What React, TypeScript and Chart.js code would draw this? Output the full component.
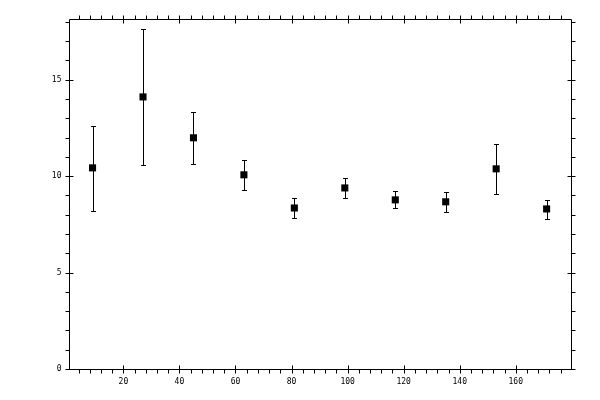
import { useEffect, useRef } from 'react';
import { Chart, registerables, Plugin } from 'chart.js';

Chart.register(...registerables);

const xValues = [9, 27, 45, 63, 81, 99, 117, 135, 153, 171];
const yValues = [10.43, 14.11, 11.99, 10.07, 8.35, 9.39, 8.77, 8.67, 10.38, 8.3];
const yUpper = [12.61, 17.64, 13.32, 10.85, 8.87, 9.91, 9.24, 9.18, 11.68, 8.77];
const yLower = [8.2, 10.6, 10.64, 9.29, 7.84, 8.87, 8.35, 8.15, 9.1, 7.78];

// axis ticks
const xMajorTicks = [20, 40, 60, 80, 100, 120, 140, 160];
const xTickLabels = ['20', '40', '60', '80', '100', '120', '140', '160'];
const xMinorTicks = [4, 8, 12, 16, 24, 28, 32, 36, 44, 48, 52, 56, 64, 68, 72, 76, 84, 88, 92, 96, 104, 108, 112, 116, 124, 128, 132, 136, 144, 148, 152, 156, 164, 168, 172, 176];
const yMajorTicks = [0, 5, 10, 15];
const yTickLabels = ['0', '5', '10', '15'];
const yMinorTicks = [1, 2, 3, 4, 6, 7, 8, 9, 11, 12, 13, 14, 16, 17, 18];

const crisp = (v: number) => Math.round(v) + 0.5;

const errorBars: Plugin<'scatter'> = {
  id: 'errorBars',
  beforeDatasetsDraw(chart) {
    const { ctx, scales } = chart;
    const xs = scales.x;
    const ys = scales.y;
    ctx.save();
    ctx.strokeStyle = '#000';
    ctx.lineWidth = 1;
    xValues.forEach((x, i) => {
      const px = crisp(xs.getPixelForValue(x));
      const top = Math.round(ys.getPixelForValue(yUpper[i])) + 0.5;
      const bot = Math.round(ys.getPixelForValue(yLower[i])) + 0.5;
      ctx.beginPath();
      ctx.moveTo(px, top);
      ctx.lineTo(px, bot);
      ctx.moveTo(px - 2.5, top);
      ctx.lineTo(px + 2.5, top);
      ctx.moveTo(px - 2.5, bot);
      ctx.lineTo(px + 2.5, bot);
      ctx.stroke();
    });
    ctx.restore();
  },
};

const frameAxes: Plugin<'scatter'> = {
  id: 'frameAxes',
  afterDraw(chart) {
    const { ctx, chartArea, scales } = chart;
    const xs = scales.x;
    const ys = scales.y;
    const l = crisp(chartArea.left);
    const r = crisp(chartArea.right);
    const t = crisp(chartArea.top);
    const b = crisp(chartArea.bottom);
    ctx.save();
    ctx.strokeStyle = '#000';
    ctx.lineWidth = 1;
    ctx.beginPath();
    ctx.rect(l, t, r - l, b - t);

    xMajorTicks.forEach((v) => {
      const p = crisp(xs.getPixelForValue(v));
      ctx.moveTo(p, b - 4);
      ctx.lineTo(p, b + 4);
      ctx.moveTo(p, t - 4);
      ctx.lineTo(p, t + 4);
    });
    xMinorTicks.forEach((v) => {
      const p = crisp(xs.getPixelForValue(v));
      ctx.moveTo(p, b);
      ctx.lineTo(p, b + 4);
      ctx.moveTo(p, t);
      ctx.lineTo(p, t - 4);
    });
    yMajorTicks.forEach((v) => {
      const p = crisp(ys.getPixelForValue(v));
      ctx.moveTo(l - 4, p);
      ctx.lineTo(l + 4, p);
      ctx.moveTo(r - 4, p);
      ctx.lineTo(r + 4, p);
    });
    yMinorTicks.forEach((v) => {
      const p = crisp(ys.getPixelForValue(v));
      ctx.moveTo(l, p);
      ctx.lineTo(l - 4, p);
      ctx.moveTo(r, p);
      ctx.lineTo(r + 4, p);
    });
    ctx.stroke();

    ctx.fillStyle = '#000';
    ctx.font = '8px "DejaVu Sans Mono"';
    ctx.textAlign = 'center';
    ctx.textBaseline = 'middle';
    xMajorTicks.forEach((v, i) => {
      ctx.fillText(xTickLabels[i], xs.getPixelForValue(v), b + 12);
    });
    ctx.textAlign = 'right';
    yMajorTicks.forEach((v, i) => {
      ctx.fillText(yTickLabels[i], l - 8, ys.getPixelForValue(v));
    });
    ctx.restore();
  },
};

export default function App() {
  const canvasRef = useRef<HTMLCanvasElement>(null);
  const chartRef = useRef<Chart<'scatter'> | null>(null);

  useEffect(() => {
    if (!canvasRef.current) return;
    if (chartRef.current) chartRef.current.destroy();

    chartRef.current = new Chart(canvasRef.current, {
      type: 'scatter',
      data: {
        datasets: [
          {
            data: xValues.map((x, i) => ({ x, y: yValues[i] })),
            pointStyle: 'rect',
            pointRadius: 5,
            pointBorderWidth: 0,
            backgroundColor: '#000',
            borderColor: '#000',
          },
        ],
      },
      options: {
        animation: false,
        responsive: false,
        devicePixelRatio: 1,
        layout: { padding: { left: 69, top: 19, right: 29, bottom: 31 } },
        plugins: { legend: { display: false }, tooltip: { enabled: false } },
        scales: {
          x: { type: 'linear', min: 0.6, max: 179.7, display: false },
          y: { type: 'linear', min: 0, max: 18.15, display: false },
        },
      },
      plugins: [errorBars, frameAxes],
    });

    return () => {
      if (chartRef.current) {
        chartRef.current.destroy();
        chartRef.current = null;
      }
    };
  }, []);

  return (
    <div style={{ position: 'fixed', left: 0, top: 0, width: 600, height: 400, background: '#fff' }}>
      <canvas ref={canvasRef} width={600} height={400} />
    </div>
  );
}
